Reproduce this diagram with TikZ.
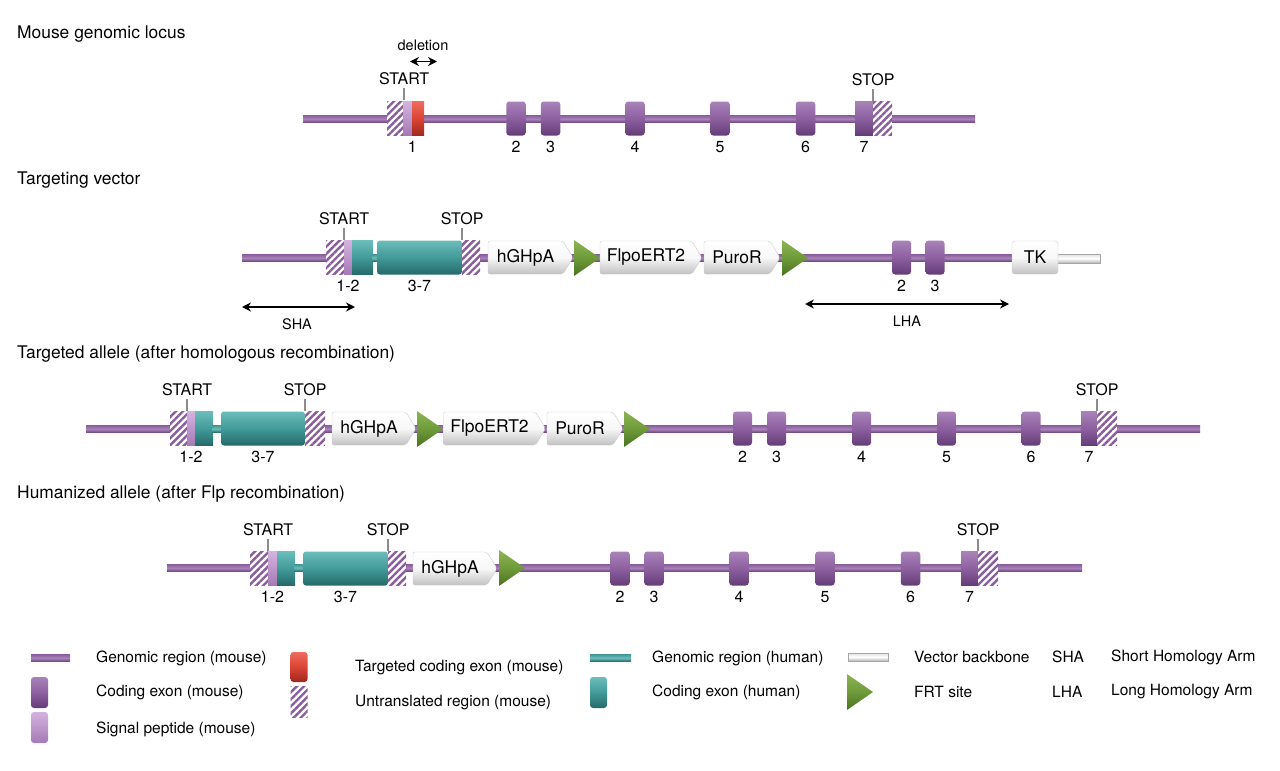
\documentclass[tikz,border=0pt]{standalone}
\usepackage{fontspec}
\setmainfont{TeX Gyre Heros}
\usetikzlibrary{arrows.meta,positioning,patterns.meta}

\definecolor{mouseT}{HTML}{A883B8}
\definecolor{mouseM}{HTML}{8D60A0}
\definecolor{mouseB}{HTML}{633C77}
\definecolor{sigT}{HTML}{D5B3E0}
\definecolor{sigB}{HTML}{A47AB5}
\definecolor{tgtT}{HTML}{EE6B5D}
\definecolor{tgtM}{HTML}{DA4434}
\definecolor{tgtB}{HTML}{A0271E}
\definecolor{humT}{HTML}{6BBDBB}
\definecolor{humM}{HTML}{429A99}
\definecolor{humB}{HTML}{256A6A}
\definecolor{utrC}{HTML}{8A5C9D}
\definecolor{frtT}{HTML}{8DB556}
\definecolor{frtM}{HTML}{6E9A3A}
\definecolor{frtB}{HTML}{4A7221}
\definecolor{casB}{HTML}{C2C2C2}

\tikzset{
  seg/.style={rectangle, inner sep=0pt, minimum height=34pt},
  mexon/.style={seg, rounded corners=3pt, top color=mouseT, bottom color=mouseB, middle color=mouseM},
  mpart/.style={seg, top color=mouseT, bottom color=mouseB, middle color=mouseM},
  sigpep/.style={seg, top color=sigT, bottom color=sigB},
  tgtexon/.style={seg, top color=tgtT, bottom color=tgtB, middle color=tgtM},
  hexon/.style={seg, rounded corners=3pt, top color=humT, bottom color=humB, middle color=humM},
  hpart/.style={seg, top color=humT, bottom color=humB, middle color=humM},
  utr/.style={seg, preaction={fill=white}, pattern={Lines[angle=45,distance=5pt,line width=2.4pt]}, pattern color=utrC},
  mouseline/.style={top color=mouseM, bottom color=mouseB!70!mouseM, middle color=mouseT},
  humline/.style={top color=humM, bottom color=humB, middle color=humT},
  frt/.style={top color=frtT, bottom color=frtB, middle color=frtM},
  casfill/.style={rounded corners=2pt, draw=black!20, top color=white, bottom color=casB, middle color=black!3},
  caslbl/.style={inner sep=0pt, font=\fontsize{17.5}{20}\selectfont},
  tkbox/.style={rectangle, rounded corners=3pt, inner sep=0pt, minimum height=33pt, draw=black!20,
    top color=white, bottom color=casB, middle color=black!3, font=\fontsize{17.5}{20}\selectfont},
  backbone/.style={draw=black!35, line width=0.5pt, top color=black!12, bottom color=black!30, middle color=white},
  title/.style={anchor=west, inner sep=0pt, font=\fontsize{17.4}{20}\selectfont},
  lbl/.style={inner sep=0pt, font=\fontsize{16}{18}\selectfont},
  small/.style={inner sep=0pt, font=\fontsize{14.5}{17}\selectfont},
  leg/.style={anchor=west, inner sep=0pt, font=\fontsize{15.5}{18}\selectfont},
  tick/.style={draw=black!45, line width=1.6pt},
  span/.style={{Stealth[length=9pt,width=9pt]}-{Stealth[length=9pt,width=9pt]}, line width=1.5pt},
}

\newcommand{\gmouse}[3]{\path[mouseline] (#1,#3-3.5) rectangle (#2,#3+3.5);}
\newcommand{\ghuman}[3]{\path[humline] (#1,#3-3.5) rectangle (#2,#3+3.5);}
\newcommand{\frtsite}[2]{\path[frt] (#1,#2-18) -- (#1+26,#2) -- (#1,#2+18) -- cycle;}
\newcommand{\cassette}[5]{%
  \path[casfill] (#2,#4-16.5) -- (#3-10,#4-16.5) -- (#3,#4) -- (#3-10,#4+16.5) -- (#2,#4+16.5) -- cycle;
  \node[caslbl] (#1) at ({(#2+#3-10)/2},#4) {#5};}

\begin{document}
\begin{tikzpicture}[x=1pt,y=-1pt]
\useasboundingbox (0,0) rectangle (1280,771);
\fill[white] (0,0) rectangle (1280,771);

% mouse genomic locus
\node[title] (tA) at (17,34) {Mouse genomic locus};
\gmouse{303}{975}{119}
\node[utr, minimum width=16pt] (aU1) at (395,118.5) {};
\node[sigpep, minimum width=9pt] (aS1) at (407.5,118.5) {};
\node[tgtexon, minimum width=12pt] (aT1) at (418,118.5) {};
\node[lbl, below=5.5pt of aS1.south east] (aN1) {1};
\foreach \n/\x in {2/516,3/550.5,4/635,5/720,6/805.5}{
  \node[mexon, minimum width=19.5pt] (aE\n) at (\x,118.5) {};
  \node[lbl, below=5.5pt of aE\n] (aN\n) {\n};
}
\node[mpart, minimum width=18pt] (aE7) at (864,118.5) {};
\node[utr, minimum width=19pt] (aU7) at (882.5,118.5) {};
\node[lbl, below=5.5pt of aE7] (aN7) {7};
\node[lbl, above=15.5pt of aU1.north east] (aStart) {START};
\draw[tick] ([yshift=-3.5pt]aStart.south) -- (aU1.north east);
\node[lbl, above=15.5pt of aE7.north east] (aStop) {STOP};
\draw[tick] ([yshift=-3.5pt]aStop.south) -- (aE7.north east);
\node[small] (aDel) at (423,45) {deletion};
\coordinate (aD1) at (410,61.5);
\coordinate (aD2) at (437,61.5);
\draw[span] (aD1) -- (aD2);

% targeting vector
\node[title] (tB) at (17,180) {Targeting vector};
\path[backbone] (1050,254) rectangle (1100,263);
\gmouse{242}{1012}{258}
\node[utr, minimum width=18pt] (bU1) at (335,257.5) {};
\node[sigpep, minimum width=8pt] (bS1) at (348,257.5) {};
\node[hpart, minimum width=21pt] (bH1) at (362.5,257.5) {};
\ghuman{372}{378}{258}
\node[hexon, minimum width=85pt] (bH2) at (419.5,257.5) {};
\node[utr, minimum width=18pt] (bU2) at (471,257.5) {};
\cassette{bC1}{488}{573}{257.5}{hGHpA}
\frtsite{574}{258}
\cassette{bC2}{600}{702}{257.5}{FlpoERT2}
\cassette{bC3}{704}{780}{257.5}{PuroR}
\frtsite{782}{258}
\foreach \n/\x in {2/901.5,3/935}{
  \node[mexon, minimum width=19pt] (bE\n) at (\x,257.5) {};
  \node[lbl, below=5.5pt of bE\n] (bN\n) {\n};
}
\node[tkbox, minimum width=46pt] (bTK) at (1035,257.5) {TK};
\node[lbl, below=5.5pt of bS1] (bN12) {1-2};
\node[lbl, below=5.5pt of bH2] (bN37) {3-7};
\node[lbl, above=15.5pt of bU1.north east] (bStart) {START};
\draw[tick] ([yshift=-3.5pt]bStart.south) -- (bU1.north east);
\node[lbl, above=15.5pt of bH2.north east] (bStop) {STOP};
\draw[tick] ([yshift=-3.5pt]bStop.south) -- (bH2.north east);
\coordinate (bSha1) at (242,307);
\coordinate (bSha2) at (355,307);
\draw[span] (bSha1) -- (bSha2);
\node[small] (bSha) at (297,324) {SHA};
\coordinate (bLha1) at (805,304);
\coordinate (bLha2) at (1009,304);
\draw[span] (bLha1) -- (bLha2);
\node[small] (bLha) at (907,321) {LHA};

% targeted allele
\node[title] (tC) at (17,354) {Targeted allele (after homologous recombination)};
\gmouse{86}{1200}{429}
\node[utr, minimum width=17pt] (cU1) at (178.5,428.5) {};
\node[sigpep, minimum width=8pt] (cS1) at (191,428.5) {};
\node[hpart, minimum width=18pt] (cH1) at (204,428.5) {};
\ghuman{212}{222}{429}
\node[hexon, minimum width=84pt] (cH2) at (263,428.5) {};
\node[utr, minimum width=20pt] (cU2) at (315,428.5) {};
\cassette{cC1}{332}{416}{428.5}{hGHpA}
\frtsite{417}{429}
\cassette{cC2}{443.5}{545.5}{428.5}{FlpoERT2}
\cassette{cC3}{547}{623}{428.5}{PuroR}
\frtsite{624}{429}
\foreach \n/\x in {2/742.5,3/776.5,4/861.5,5/946.5,6/1031}{
  \node[mexon, minimum width=19pt] (cE\n) at (\x,428.5) {};
  \node[lbl, below=5.5pt of cE\n] (cN\n) {\n};
}
\node[mpart, minimum width=16pt] (cE7) at (1089,428.5) {};
\node[utr, minimum width=20pt] (cU7) at (1107,428.5) {};
\node[lbl, below=5.5pt of cE7] (cN7) {7};
\node[lbl, below=5.5pt of cS1] (cN12) {1-2};
\node[lbl, below=5.5pt of cH2] (cN37) {3-7};
\node[lbl, above=15.5pt of cU1.north east] (cStart) {START};
\draw[tick] ([yshift=-3.5pt]cStart.south) -- (cU1.north east);
\node[lbl, above=15.5pt of cH2.north east] (cStop) {STOP};
\draw[tick] ([yshift=-3.5pt]cStop.south) -- (cH2.north east);
\node[lbl, above=15.5pt of cE7.north east] (cStop7) {STOP};
\draw[tick] ([yshift=-3.5pt]cStop7.south) -- (cE7.north east);

% humanized allele
\node[title] (tD) at (17,494) {Humanized allele (after Flp recombination)};
\gmouse{167}{1082}{568}
\node[utr, minimum width=18pt] (dU1) at (259,568.5) {};
\node[sigpep, minimum width=9pt] (dS1) at (272.5,568.5) {};
\node[hpart, minimum width=18pt] (dH1) at (286,568.5) {};
\ghuman{294}{304}{568}
\node[hexon, minimum width=85pt] (dH2) at (345.5,568.5) {};
\node[utr, minimum width=18pt] (dU2) at (397,568.5) {};
\cassette{dC1}{413}{497}{568.5}{hGHpA}
\frtsite{499}{568}
\foreach \n/\x in {2/620,3/654,4/739,5/825,6/910.5}{
  \node[mexon, minimum width=19.5pt] (dE\n) at (\x,568.5) {};
  \node[lbl, below=5.5pt of dE\n] (dN\n) {\n};
}
\node[mpart, minimum width=17pt] (dE7) at (969.5,568.5) {};
\node[utr, minimum width=20pt] (dU7) at (988,568.5) {};
\node[lbl, below=5.5pt of dE7] (dN7) {7};
\node[lbl, below=5.5pt of dS1] (dN12) {1-2};
\node[lbl, below=5.5pt of dH2] (dN37) {3-7};
\node[lbl, above=15.5pt of dU1.north east] (dStart) {START};
\draw[tick] ([yshift=-3.5pt]dStart.south) -- (dU1.north east);
\node[lbl, above=15.5pt of dH2.north east] (dStop) {STOP};
\draw[tick] ([yshift=-3.5pt]dStop.south) -- (dH2.north east);
\node[lbl, above=15.5pt of dE7.north east] (dStop7) {STOP};
\draw[tick] ([yshift=-3.5pt]dStop7.south) -- (dE7.north east);

% legend
\gmouse{31}{70}{658}
\node[leg] (l1) at (96,658) {Genomic region (mouse)};
\node[mexon, minimum width=17pt, minimum height=31pt] (lE) at (39.5,692.5) {};
\node[leg] (l2) at (96,692) {Coding exon (mouse)};
\node[sigpep, rounded corners=3pt, minimum width=17pt, minimum height=31pt] (lS) at (39.5,727.5) {};
\node[leg] (l3) at (96,729) {Signal peptide (mouse)};
\node[tgtexon, rounded corners=3pt, minimum width=17pt, minimum height=30pt] (lT) at (299,667) {};
\node[leg] (l4) at (355,668) {Targeted coding exon (mouse)};
\node[utr, minimum width=17pt, minimum height=31pt] (lU) at (299,701.5) {};
\node[leg] (l5) at (355,703) {Untranslated region (mouse)};
\ghuman{590}{631}{658}
\node[leg] (l6) at (652,658) {Genomic region (human)};
\node[hexon, minimum width=17pt, minimum height=31pt] (lH) at (598.5,692.5) {};
\node[leg] (l7) at (652,692) {Coding exon (human)};
\path[backbone] (848,653) rectangle (888,661);
\node[leg] (l8) at (914,657) {Vector backbone};
\frtsite{847}{692}
\node[leg] (l9) at (914,692) {FRT site};
\node[leg] (l10) at (1052,657) {SHA};
\node[leg] (l11) at (1111,657) {Short Homology Arm};
\node[leg] (l12) at (1052,692) {LHA};
\node[leg] (l13) at (1111,692) {Long Homology Arm};
\end{tikzpicture}
\end{document}
